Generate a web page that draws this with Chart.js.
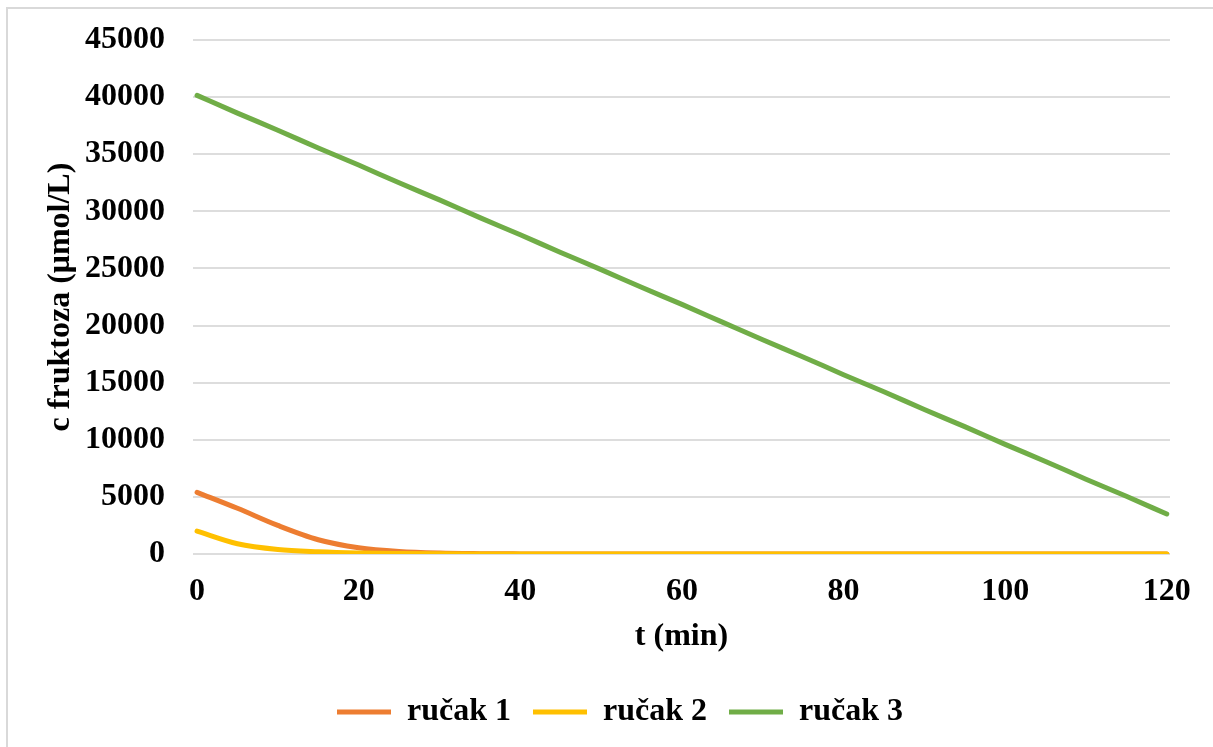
<!DOCTYPE html>
<html>
<head>
<meta charset="utf-8">
<script src="https://cdn.jsdelivr.net/npm/chart.js@4/dist/chart.umd.min.js"></script>
<style>
  html, body { margin: 0; padding: 0; background: #fff; }
  #wrap { position: relative; width: 1213px; height: 747px; overflow: hidden; }
  #frame { position: absolute; left: 6px; top: 7px; width: 1230px; height: 760px; border: 2px solid #D9D9D9; box-sizing: border-box; }
  #chart { position: absolute; left: 0; top: 0; }
</style>
</head>
<body>
<div id="wrap">
  <div id="frame"></div>
  <canvas id="chart" width="1213" height="747"></canvas>
</div>
<script>
// ========= Data =========
const times = [0, 5, 10, 15, 20, 25, 30, 35, 40, 45, 50, 55, 60, 65, 70, 75, 80, 85, 90, 95, 100, 105, 110, 115, 120];
const rucak1 = [5400, 4000, 2500, 1250, 550, 220, 80, 30, 10, 0, 0, 0, 0, 0, 0, 0, 0, 0, 0, 0, 0, 0, 0, 0, 0];
const rucak2 = [2000, 900, 400, 200, 90, 40, 15, 5, 0, 0, 0, 0, 0, 0, 0, 0, 0, 0, 0, 0, 0, 0, 0, 0, 0];
const rucak3 = [40150, 38600, 37100, 35550, 34050, 32500, 31000, 29450, 27950, 26400, 24900, 23350, 21850, 20300, 18750, 17250, 15700, 14200, 12650, 11150, 9600, 8100, 6550, 5050, 3500];
const seriesNames = ["ručak 1", "ručak 2", "ručak 3"];
const xTicks = [0, 20, 40, 60, 80, 100, 120];
const yTicks = [0, 5000, 10000, 15000, 20000, 25000, 30000, 35000, 40000, 45000];

const colors = { orange: "#ED7D31", yellow: "#FFC000", green: "#70AD47", grid: "#DDDDDD" };
const font = { family: "'Liberation Serif', 'Times New Roman', serif", weight: "bold", size: 32 };

const pts = vals => vals.map((v, i) => ({ x: times[i], y: v }));
// later series sit on top, like in the original
const ds = (label, vals, color, order) => ({
  label, data: pts(vals), borderColor: color, backgroundColor: color,
  borderWidth: 5, borderCapStyle: "round", borderJoinStyle: "round",
  pointRadius: 0, cubicInterpolationMode: "monotone", fill: false, order
});

// legend in the original sits a bit right of the canvas centre
const legendShift = {
  id: "legendShift",
  afterLayout(chart) { if (chart.legend) chart.legend.left = 70; }
};

new Chart(document.getElementById("chart"), {
  type: "line",
  data: {
    datasets: [
      ds(seriesNames[0], rucak1, colors.orange, 3),
      ds(seriesNames[1], rucak2, colors.yellow, 2),
      ds(seriesNames[2], rucak3, colors.green, 1)
    ]
  },
  plugins: [legendShift],
  options: {
    responsive: false,
    animation: false,
    layout: { padding: { left: 0, right: 43, top: 40, bottom: 22 } },
    plugins: {
      tooltip: { enabled: false },
      legend: {
        position: "bottom",
        maxHeight: 51,
        labels: {
          color: "#000", font, usePointStyle: true, pointStyle: "line",
          pointStyleWidth: 54, padding: 22,
          sort: (a, b) => a.datasetIndex - b.datasetIndex
        }
      }
    },
    scales: {
      x: {
        type: "linear", min: -0.5, max: 120.4,
        afterBuildTicks: s => { s.ticks = xTicks.map(v => ({ value: v })); },
        afterFit: s => { s.height = 120; },
        grid: { display: false, drawTicks: false },
        border: { display: false },
        ticks: { color: "#000", font, padding: 19, maxRotation: 0 },
        title: { display: true, text: "t (min)", color: "#000", font, padding: { top: 0, bottom: 18 } }
      },
      y: {
        min: 0, max: 45000,
        afterBuildTicks: s => { s.ticks = yTicks.map(v => ({ value: v })); },
        afterFit: s => { s.width = 193; s.paddingTop = 0; s.paddingBottom = 0; },
        grid: { color: colors.grid, lineWidth: 2, drawTicks: false },
        border: { display: false },
        ticks: { color: "#000", font, padding: 28, callback: v => String(v) },
        title: { display: true, text: "c fruktoza (μmol/L)", color: "#000", font, padding: { top: 42, bottom: 0 } }
      }
    }
  }
});
</script>
</body>
</html>
